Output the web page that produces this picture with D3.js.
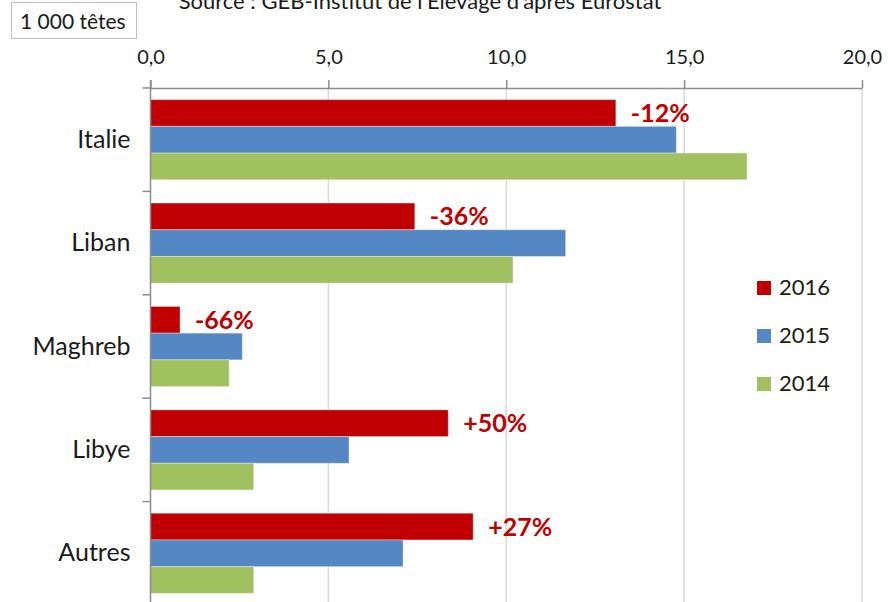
<!DOCTYPE html>
<html>
<head>
<meta charset="utf-8">
<script src="https://d3js.org/d3.v7.min.js"></script>
<style>
  body { margin: 0; background: #fff; }
  svg { display: block; font-family: Lato, "Open Sans", sans-serif; }
</style>
</head>
<body>
<div id="chart"></div>
<script>
// data (1 000 têtes)
var categories = ["Italie", "Liban", "Maghreb", "Libye", "Autres"];
var series     = ["2016", "2015", "2014"];
var values2016 = [13.08, 7.43, 0.83, 8.37, 9.07];
var values2015 = [14.78, 11.67, 2.58, 5.58, 7.10];
var values2014 = [16.77, 10.19, 2.21, 2.90, 2.90];
var changes    = ["-12%", "-36%", "-66%", "+50%", "+27%"];
var xTicks     = [0, 5, 10, 15, 20];
var colors     = ["#c00000", "#5487c4", "#a1c160"];

var seriesValues = [values2016, values2015, values2014];

var width  = 888,
    height = 602,
    margin = {top: 88, left: 150.5, right: 26};

var svg = d3.select("#chart")
  .append("svg")
    .attr("width", width)
    .attr("height", height);

// scales
var xScale = d3.scaleLinear()
  .domain([0, 20])
  .range([margin.left, width - margin.right]);

var yScale = d3.scaleBand()
  .domain(categories)
  .range([margin.top, 605]);

var ySub = d3.scaleBand()
  .domain(series)
  .range([0, yScale.bandwidth()])
  .paddingOuter(0.436);

// gridlines
svg.append("g")
  .selectAll("line")
  .data(xTicks.slice(1))
  .enter()
  .append("line")
    .attr("x1", function (d) { return xScale(d); })
    .attr("x2", function (d) { return xScale(d); })
    .attr("y1", margin.top)
    .attr("y2", height)
    .style("stroke", "#d9d9d9")
    .style("stroke-width", 1.5);

// bars
var groups = svg.append("g")
  .selectAll("g")
  .data(categories)
  .enter()
  .append("g")
    .attr("transform", function (d) { return "translate(0," + yScale(d) + ")"; });

groups.selectAll("rect")
  .data(function (d, i) {
    return series.map(function (s, j) { return {s: s, v: seriesValues[j][i], c: colors[j]}; });
  })
  .enter()
  .append("rect")
    .attr("x", xScale(0))
    .attr("y", function (d) { return ySub(d.s); })
    .attr("width", function (d) { return xScale(d.v) - xScale(0); })
    .attr("height", ySub.bandwidth())
    .attr("fill", function (d) { return d.c; })
    .style("stroke", "rgba(255,255,255,0.35)")
    .style("stroke-width", 1);

// change labels next to the 2016 bars
svg.append("g")
  .selectAll("text")
  .data(categories)
  .enter()
  .append("text")
    .attr("x", function (d, i) { return xScale(values2016[i]) + 15; })
    .attr("y", function (d) { return yScale(d) + ySub("2016") + ySub.bandwidth() / 2 + 9; })
    .attr("fill", "#c00000")
    .style("font-size", "25px")
    .style("font-weight", "bold")
    .text(function (d, i) { return changes[i]; });

// x axis on top
var xAxis = d3.axisTop(xScale)
  .tickValues(xTicks)
  .tickSizeInner(8)
  .tickSizeOuter(0)
  .tickPadding(16)
  .tickFormat(function (d) { return d3.format(".1f")(d).replace(".", ","); });

var xAxisEl = svg.append("g")
  .attr("transform", "translate(0," + margin.top + ")")
  .call(xAxis);

xAxisEl.select(".domain").style("stroke", "#8c8c8c").style("stroke-width", 1.5);
xAxisEl.selectAll(".tick line").style("stroke", "#8c8c8c").style("stroke-width", 1.5);
xAxisEl.selectAll(".tick text")
  .style("font-size", "20px")
  .style("font-family", "Lato, sans-serif")
  .attr("fill", "#1a1a1a");

// y axis: line + boundary ticks
svg.append("line")
  .attr("x1", xScale(0)).attr("x2", xScale(0))
  .attr("y1", margin.top - 8).attr("y2", height)
  .style("stroke", "#8c8c8c")
  .style("stroke-width", 1.5);

svg.append("g")
  .selectAll("line")
  .data(categories.concat(["end"]))
  .enter()
  .append("line")
    .attr("x1", xScale(0) - 8)
    .attr("x2", xScale(0))
    .attr("y1", function (d, i) { return margin.top + i * yScale.step(); })
    .attr("y2", function (d, i) { return margin.top + i * yScale.step(); })
    .style("stroke", "#8c8c8c")
    .style("stroke-width", 1.5);

svg.append("g")
  .selectAll("text")
  .data(categories)
  .enter()
  .append("text")
    .attr("x", xScale(0) - 20)
    .attr("y", function (d) { return yScale(d) + yScale.bandwidth() / 2 + 8; })
    .attr("text-anchor", "end")
    .attr("fill", "#1a1a1a")
    .style("font-size", "25px")
    .text(function (d) { return d; });

// legend
var legend = svg.append("g")
  .selectAll("g")
  .data(series)
  .enter()
  .append("g")
    .attr("transform", function (d, i) { return "translate(757," + (281 + i * 48) + ")"; });

legend.append("rect")
  .attr("width", 14)
  .attr("height", 14)
  .attr("fill", function (d, i) { return colors[i]; });

legend.append("text")
  .attr("x", 22)
  .attr("y", 14)
  .attr("fill", "#1a1a1a")
  .style("font-size", "22px")
  .text(function (d) { return d; });

// unit box
svg.append("rect")
  .attr("x", 11.5).attr("y", 2.5)
  .attr("width", 125).attr("height", 36)
  .attr("fill", "#fff")
  .style("stroke", "#bfbfbf");

svg.append("text")
  .attr("x", 20).attr("y", 29)
  .attr("fill", "#1a1a1a")
  .style("font-size", "21px")
  .text("1 000 têtes");

// source, cut at the top edge like in the original
svg.append("text")
  .attr("x", 420).attr("y", 9)
  .attr("text-anchor", "middle")
  .attr("fill", "#1a1a1a")
  .style("font-size", "22px")
  .text("Source : GEB-Institut de l'Elevage d'après Eurostat");
</script>
</body>
</html>
